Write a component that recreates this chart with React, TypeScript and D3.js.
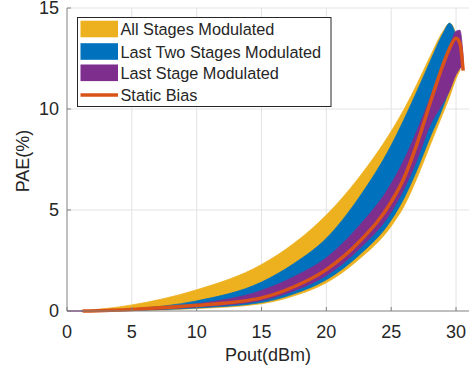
import React from 'react';
import * as d3 from 'd3';

// Pout grid (dBm) shared by the three shaded bands
const pout = [0, 1.1, 5, 10, 15, 17.5, 20, 22.5, 25, 26, 27, 28, 29, 29.5, 30, 30.3, 30.55];

// PAE (%) envelopes per band, null = band not present at that Pout
const allUpper = [null, 0, 0.3, 1.05, 2.3, 3.35, 4.75, 6.6, 8.9, 10.0, 11.25, 12.6, 13.85, 14.25, 13.7, 12.6, null];
const allLower = [null, 0, 0.02, 0.12, 0.36, 0.75, 1.4, 2.55, 4.2, 5.2, 6.6, 8.2, 9.8, 10.6, 11.5, 11.9, null];
const twoUpper = [null, 0, 0.1, 0.5, 1.43, 2.35, 3.6, 5.6, 8.2, 9.5, 10.9, 12.35, 13.75, 14.25, 13.6, 12.8, null];
const twoLower = [null, 0, 0.03, 0.15, 0.42, 0.85, 1.55, 2.75, 4.5, 5.6, 7.0, 8.6, 10.1, 11.0, 12.0, 12.4, null];
const lastUpper = [0, 0, 0.07, 0.35, 1.02, 1.7, 2.64, 4.2, 6.3, 7.5, 8.95, 10.55, 12.3, 13.1, 13.85, 13.9, 12.6];
const lastLower = [0, 0, 0.04, 0.2, 0.52, 1.0, 1.76, 3.05, 4.9, 6.05, 7.5, 9.2, 10.3, 10.9, 11.7, 12.0, 12.2];

// static bias curve
const staticPout = [1.2, 5, 10, 15, 17.5, 20, 22.5, 25, 26, 27, 28, 29, 29.5, 30, 30.3, 30.55];
const staticPae = [0, 0.08, 0.28, 0.65, 1.2, 2.05, 3.4, 5.4, 6.6, 8.3, 10.3, 12.2, 13.0, 13.5, 13.25, 11.9];

const xTicks = [0, 5, 10, 15, 20, 25, 30];
const yTicks = [0, 5, 10, 15];
const legendLabels = ['All Stages Modulated', 'Last Two Stages Modulated', 'Last Stage Modulated', 'Static Bias'];
const colors = ['#EDB120', '#0072BD', '#7E2F8E', '#D95319'];

const W = 476, H = 376;
const FONT = '"Liberation Sans", Arial, Helvetica, sans-serif';

export default function App() {
  const x = d3.scaleLinear().domain([0, 31]).range([67, 469]);
  const y = d3.scaleLinear().domain([0, 15]).range([311, 8]);

  const bands = [
    { up: allUpper, lo: allLower, color: colors[0] },
    { up: twoUpper, lo: twoLower, color: colors[1] },
    { up: lastUpper, lo: lastLower, color: colors[2] },
  ];

  const areaFor = (up: (number | null)[], lo: (number | null)[]) =>
    d3.area<number>()
      .defined(i => up[i] != null && lo[i] != null)
      .x(i => x(pout[i]))
      .y0(i => y(lo[i] as number))
      .y1(i => y(up[i] as number))
      .curve(d3.curveMonotoneX)(pout.map((_, i) => i));

  const staticLine = d3.line<number>()
    .x(i => x(staticPout[i]))
    .y(i => y(staticPae[i]))
    .curve(d3.curveMonotoneX)(staticPout.map((_, i) => i));

  const textColor = '#262626';
  const axisColor = '#808080';
  const gridColor = '#e3e3e3';

  const legX = 77.5, legY = 17.5, legW = 253.5, legH = 89;
  const rowY = [29, 51.5, 72.8, 95];

  return (
    <svg width={W} height={H} style={{ position: 'absolute', left: 0, top: 0, background: '#fff' }} fontFamily={FONT}>
      <rect width={W} height={H} fill="#fff" />
      {/* grid */}
      {xTicks.filter(t => t > 0).map(t => (
        <line key={'gx' + t} x1={x(t)} x2={x(t)} y1={y(15)} y2={y(0)} stroke={gridColor} strokeWidth={1} />
      ))}
      {yTicks.filter(t => t > 0).map(t => (
        <line key={'gy' + t} x1={x(0)} x2={x(31)} y1={y(t)} y2={y(t)} stroke={gridColor} strokeWidth={1} />
      ))}

      {/* bands */}
      {bands.map((b, k) => (
        <path key={k} d={areaFor(b.up, b.lo) || ''} fill={b.color} stroke={b.color} strokeWidth={0.8} strokeLinejoin="round" />
      ))}
      <path d={staticLine || ''} fill="none" stroke={colors[3]} strokeWidth={3.5} strokeLinecap="butt" />

      {/* axes */}
      <line x1={x(0)} x2={x(0)} y1={y(15)} y2={y(0)} stroke={axisColor} strokeWidth={1} />
      <line x1={x(0)} x2={x(31)} y1={y(0)} y2={y(0)} stroke={axisColor} strokeWidth={1} />
      {xTicks.map(t => (
        <g key={'xt' + t}>
          <line x1={x(t)} x2={x(t)} y1={y(0)} y2={y(0) - 4} stroke={axisColor} />
          <text x={x(t)} y={338} textAnchor="middle" fontSize={18} fill={textColor}>{t}</text>
        </g>
      ))}
      {yTicks.map(t => (
        <g key={'yt' + t}>
          <line x1={x(0)} x2={x(0) + 4} y1={y(t)} y2={y(t)} stroke={axisColor} />
          <text x={59} y={y(t) + 6.4} textAnchor="end" fontSize={18} fill={textColor}>{t}</text>
        </g>
      ))}
      <text x={268} y={361} textAnchor="middle" fontSize={18} fill={textColor}>Pout(dBm)</text>
      <text transform={`translate(29,161) rotate(-90)`} textAnchor="middle" fontSize={18} fill={textColor}>PAE(%)</text>

      {/* legend */}
      <rect x={legX} y={legY} width={legW} height={legH} fill="#fff" stroke="#262626" strokeWidth={1} />
      {legendLabels.map((lab, i) => (
        <g key={lab}>
          {i < 3 ? (
            <rect x={80.5} y={rowY[i] - 8.3} width={37.5} height={16.6} fill={colors[i]} />
          ) : (
            <line x1={80.5} x2={118} y1={rowY[i]} y2={rowY[i]} stroke={colors[i]} strokeWidth={3.5} />
          )}
          <text x={120.5} y={rowY[i] + 6.3} fontSize={16.3} fill={textColor}>{lab}</text>
        </g>
      ))}
    </svg>
  );
}
